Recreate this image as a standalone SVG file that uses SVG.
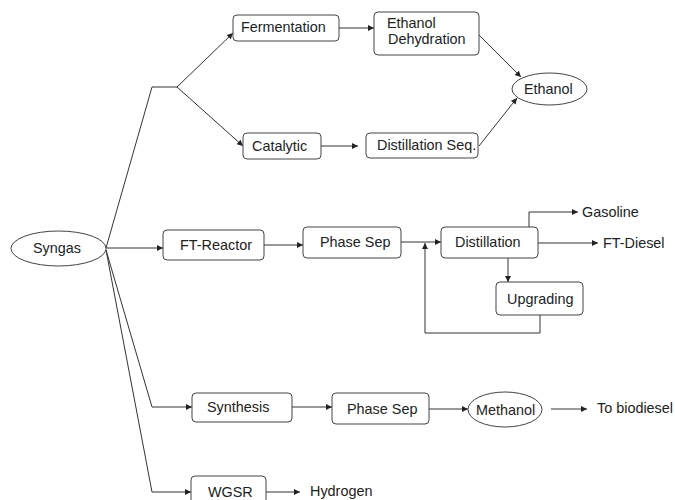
<svg xmlns="http://www.w3.org/2000/svg" width="675" height="500" viewBox="0 0 675 500">
<defs>
<marker id="ah" viewBox="0 0 10 10" refX="10" refY="5" markerWidth="8" markerHeight="6" markerUnits="userSpaceOnUse" orient="auto">
<path d="M0,0 L10,5 L0,10 z" fill="#222"/>
</marker>
<style>
.box{fill:#fff;stroke:#444;stroke-width:1}
.el{fill:#fff;stroke:#444;stroke-width:1}
text{font-family:"Liberation Sans",Arial,sans-serif;font-size:14.4px;fill:#222}
.c{fill:none;stroke:#333;stroke-width:1}
.a{marker-end:url(#ah)}
</style>
</defs>
<rect width="675" height="500" fill="#fff"/>
<g id="connectors">
<path class="c" d="M106,248 L152,87 L177,87"/>
<path class="c a" d="M177,87 L233,33"/>
<path class="c a" d="M177,87 L243,146"/>
<path class="c a" d="M339,28 L374,28"/>
<path class="c a" d="M479,35 L521,77"/>
<path class="c a" d="M321,146 L358,146"/>
<path class="c a" d="M479,146 L517,98"/>
<path class="c a" d="M106,248 L163,248"/>
<path class="c a" d="M264,245 L303,245"/>
<path class="c a" d="M401,242 L441,242"/>
<path class="c a" d="M529,227 L529,212 L578,212"/>
<path class="c a" d="M538,243 L598,243"/>
<path class="c a" d="M508,258 L508,282"/>
<path class="c a" d="M540,315 L540,333 L425,333 L425,243"/>
<path class="c a" d="M106,250 L152,407 L192,407"/>
<path class="c a" d="M292,407 L332,407"/>
<path class="c a" d="M429,409 L468,409"/>
<path class="c a" d="M551,409 L587,409"/>
<path class="c a" d="M106,250 L152,492 L191,492"/>
<path class="c a" d="M266,492 L300,492"/>
</g>
<g id="syngas"><ellipse class="el" cx="58.5" cy="248.5" rx="47.5" ry="17.5"/><text x="33" y="253">Syngas</text></g>
<g id="fermentation"><rect class="box" x="233" y="15" width="106" height="26" rx="4"/><text x="241" y="32">Fermentation</text></g>
<g id="ethanol-dehydration"><rect class="box" x="374" y="12" width="105" height="43" rx="4"/><text x="387" y="28">Ethanol</text><text x="388" y="44">Dehydration</text></g>
<g id="ethanol"><ellipse class="el" cx="549.5" cy="89" rx="37.5" ry="16"/><text x="524" y="94">Ethanol</text></g>
<g id="catalytic"><rect class="box" x="243" y="133" width="78" height="26" rx="4"/><text x="252" y="151">Catalytic</text></g>
<g id="distillation-seq"><rect class="box" x="366" y="133" width="112" height="25" rx="4"/><text x="377" y="150">Distillation Seq.</text></g>
<g id="ft-reactor"><rect class="box" x="163" y="230" width="101" height="30" rx="4"/><text x="180" y="250">FT-Reactor</text></g>
<g id="phase-sep-1"><rect class="box" x="303" y="227" width="98" height="31" rx="4"/><text x="320" y="247">Phase Sep</text></g>
<g id="distillation"><rect class="box" x="441" y="227" width="97" height="31" rx="4"/><text x="455" y="247">Distillation</text></g>
<g id="upgrading"><rect class="box" x="496" y="282" width="87" height="33" rx="4"/><text x="507" y="304">Upgrading</text></g>
<g id="gasoline"><text x="582" y="217">Gasoline</text></g>
<g id="ft-diesel"><text x="603" y="248">FT-Diesel</text></g>
<g id="synthesis"><rect class="box" x="192" y="393" width="100" height="29" rx="4"/><text x="207" y="412">Synthesis</text></g>
<g id="phase-sep-2"><rect class="box" x="332" y="393" width="97" height="31" rx="4"/><text x="347" y="414">Phase Sep</text></g>
<g id="methanol"><ellipse class="el" cx="505" cy="409.5" rx="37" ry="17.5"/><text x="476" y="415">Methanol</text></g>
<g id="to-biodiesel"><text x="597" y="413">To biodiesel</text></g>
<g id="wgsr"><rect class="box" x="191" y="476" width="75" height="30" rx="4"/><text x="208" y="497">WGSR</text></g>
<g id="hydrogen"><text x="310" y="496">Hydrogen</text></g>
</svg>
